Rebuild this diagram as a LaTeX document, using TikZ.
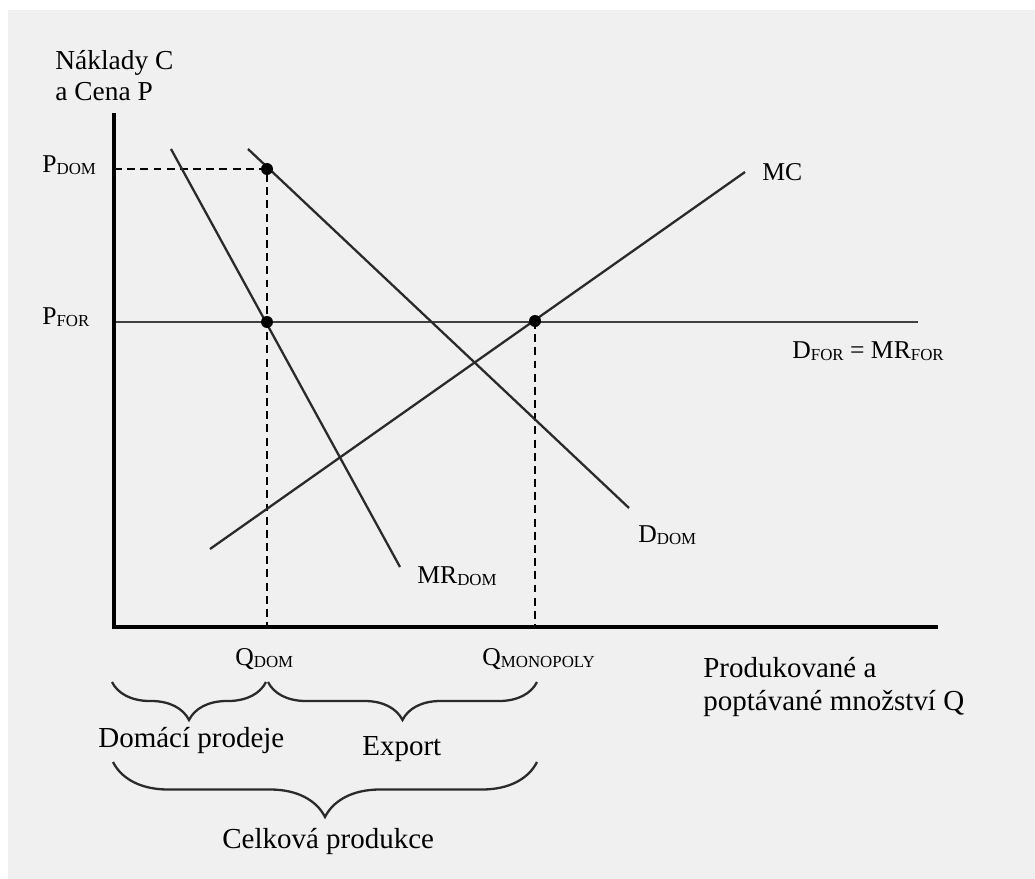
\documentclass[tikz,border=0pt]{standalone}
\usepackage{fontspec}
\setmainfont{Liberation Serif}
\usetikzlibrary{decorations.pathreplacing}
\definecolor{bgGray}{HTML}{F0F0F0}
\definecolor{lineGray}{HTML}{2A2A2A}
\newcommand{\lsub}[1]{\raisebox{-1.7pt}{\fontsize{9.6}{11}\selectfont #1}}

\begin{document}
\begin{tikzpicture}[x=0.02cm,y=-0.02cm,
    curve/.style={line width=1.3pt,lineGray},
    guide/.style={line width=1.2pt,black,dash pattern=on 4.5pt off 3pt},
    lbl/.style={font=\fontsize{14.6}{17}\selectfont,inner sep=0pt,anchor=base west},
    txt/.style={font=\fontsize{16.5}{18.7}\selectfont,inner sep=0pt,anchor=base west,align=left},
    brc/.style={decorate,decoration={brace,mirror,amplitude=#1},line width=1.3pt,lineGray}]
    \useasboundingbox (0,0) rectangle (1035,879);
    \fill[white] (0,0) rectangle (1035,879);
    \fill[bgGray] (8,10) rectangle (1035,879);
    % axes
    \coordinate (O) at (114,627);
    \coordinate (Ytop) at (114,113);
    \coordinate (Xend) at (938,627);
    % equilibrium points
    \coordinate (A) at (267,169);
    \coordinate (B) at (267,322);
    \coordinate (C) at (535,321);
    \coordinate (yDom) at (114,169);
    \coordinate (yFor) at (114,322);
    \coordinate (xDom) at (267,627);
    \coordinate (xMon) at (535,627);
    % curve ends
    \coordinate (dd1) at (248,149);
    \coordinate (dd2) at (629,508);
    \coordinate (mr1) at (171,149);
    \coordinate (mr2) at (400,567);
    \coordinate (mc1) at (210,549);
    \coordinate (mc2) at (745,172);
    \coordinate (df2) at (918,322);
    % brace ends
    \coordinate (bDomL) at (112,682);
    \coordinate (bDomR) at (266,682);
    \coordinate (bExpL) at (268,682);
    \coordinate (bExpR) at (537,682);
    \coordinate (bTotL) at (113,762);
    \coordinate (bTotR) at (537,762);

    \draw[guide] (yDom) -- (A) -- (xDom);
    \draw[guide] (C) -- (xMon);
    \draw[line width=1.6pt,black!75] (yFor) -- (df2);
    \draw[curve] (dd1) -- (dd2);
    \draw[curve] (mr1) -- (mr2);
    \draw[curve] (mc1) -- (mc2);
    \draw[line width=2.7pt,line join=miter] (Ytop) -- (O) -- (Xend);
    \fill (A) circle[radius=0.12cm];
    \fill (B) circle[radius=0.12cm];
    \fill (C) circle[radius=0.12cm];

    \draw[brc=0.76cm] (bDomL) -- (bDomR);
    \draw[brc=0.76cm] (bExpL) -- (bExpR);
    \draw[brc=1.1cm] (bTotL) -- (bTotR);

    % labels
    \node[txt,font=\fontsize{15.6}{17.6}\selectfont] (yTitle) at (55,100) {Náklady C\\a Cena P};
    \node[txt] (xTitle) at (703,710) {Produkované a\\poptávané množství Q};
    \node[lbl] (pDom) at (42,172) {P\lsub{DOM}};
    \node[lbl] (pFor) at (42,324) {P\lsub{FOR}};
    \node[lbl] (mcLbl) at (762,180) {MC};
    \node[lbl] (dfLbl) at (792,358) {D\lsub{FOR} = MR\lsub{FOR}};
    \node[lbl] (ddLbl) at (638,542) {D\lsub{DOM}};
    \node[lbl] (mrLbl) at (417,583) {MR\lsub{DOM}};
    \node[lbl] (qDom) at (235,665) {Q\lsub{DOM}};
    \node[lbl] (qMon) at (482,665) {Q\lsub{MONOPOLY}};
    \node[txt] (domLbl) at (98,747) {Domácí prodeje};
    \node[txt] (expLbl) at (362,755) {Export};
    \node[txt] (totLbl) at (222,848) {Celková produkce};
\end{tikzpicture}
\end{document}
